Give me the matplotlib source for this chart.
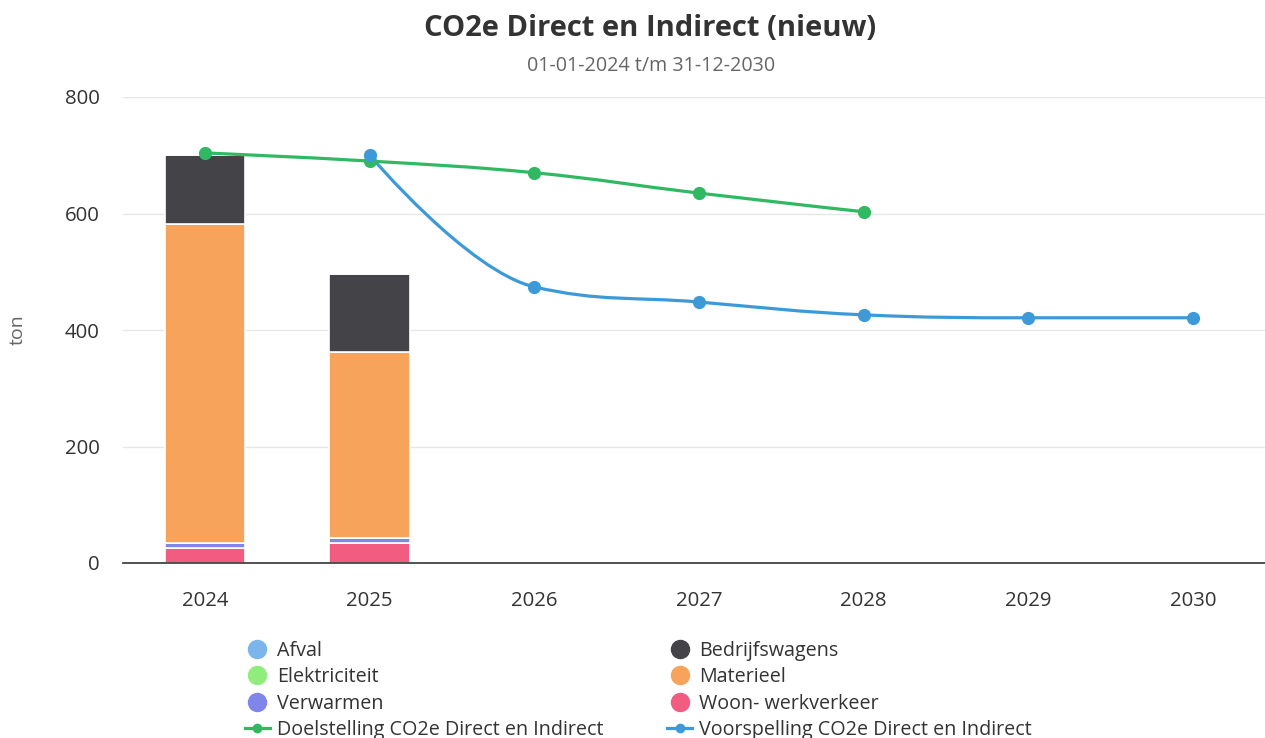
import matplotlib
matplotlib.use("Agg")
import matplotlib.pyplot as plt
from matplotlib.path import Path
from matplotlib.patches import PathPatch
from matplotlib.lines import Line2D

plt.rcParams['font.family'] = ['Open Sans', 'DejaVu Sans']

years = ['2024', '2025', '2026', '2027', '2028', '2029', '2030']

# stacked bars (only 2024 and 2025 have data)
woon = [26, 35]
verwarmen = [8, 8]
elektriciteit = [0, 0]
materieel = [548, 319]
bedrijfswagens = [118, 134]
afval = [0, 0]

doel_x = [0, 1, 2, 3, 4]
doel_y = [704, 690, 670, 635, 603]
voor_x = [1, 2, 3, 4, 5, 6]
voor_y = [700, 474, 448, 426, 421, 421]

c_afval = '#7cb5ec'
c_bedrijf = '#434348'
c_elek = '#90ed7d'
c_mat = '#f7a35c'
c_verw = '#8085e9'
c_woon = '#f15c80'
c_doel = '#30b862'
c_voor = '#3d9ad9'


def spline_path(xs, ys, smoothing=1.5):
    # highcharts-like spline control points
    n = len(xs)
    denom = smoothing + 1
    lc = [(xs[i], ys[i]) for i in range(n)]
    rc = [(xs[i], ys[i]) for i in range(n)]
    for i in range(1, n - 1):
        px, py = xs[i], ys[i]
        lx, ly = xs[i - 1], ys[i - 1]
        nx, ny = xs[i + 1], ys[i + 1]
        lcx = (smoothing * px + lx) / denom
        lcy = (smoothing * py + ly) / denom
        rcx = (smoothing * px + nx) / denom
        rcy = (smoothing * py + ny) / denom
        if rcx != lcx:
            corr = (rcy - lcy) * (rcx - px) / (rcx - lcx) + py - rcy
            lcy += corr
            rcy += corr
        if lcy > ly and lcy > py:
            lcy = max(ly, py)
            rcy = 2 * py - lcy
        elif lcy < ly and lcy < py:
            lcy = min(ly, py)
            rcy = 2 * py - lcy
        if rcy > ny and rcy > py:
            rcy = max(ny, py)
            lcy = 2 * py - rcy
        elif rcy < ny and rcy < py:
            rcy = min(ny, py)
            lcy = 2 * py - rcy
        lc[i] = (lcx, lcy)
        rc[i] = (rcx, rcy)
    verts = [(xs[0], ys[0])]
    codes = [Path.MOVETO]
    for i in range(1, n):
        verts += [rc[i - 1], lc[i], (xs[i], ys[i])]
        codes += [Path.CURVE4] * 3
    return Path(verts, codes)


fig = plt.figure(figsize=(12.65, 7.38), dpi=100)
ax = fig.add_axes([123 / 1265, 175 / 738, 1 - 123 / 1265, 466 / 738])

bx = list(range(len(woon)))
bw = 0.49
bottom = [0] * len(bx)
for vals, col in [(woon, c_woon), (verwarmen, c_verw), (materieel, c_mat),
                  (elektriciteit, c_elek), (bedrijfswagens, c_bedrijf), (afval, c_afval)]:
    ax.bar(bx, vals, bw, bottom=bottom, color=col, edgecolor='white', linewidth=1.2, zorder=2)
    bottom = [bottom[i] + vals[i] for i in range(len(vals))]

for xs, ys, col in [(doel_x, doel_y, c_doel), (voor_x, voor_y, c_voor)]:
    ax.add_patch(PathPatch(spline_path(xs, ys), fill=False, edgecolor=col, lw=2.3,
                           capstyle='round', joinstyle='round', zorder=3))
    ax.plot(xs, ys, 'o', color=col, markersize=8.5, zorder=4)

ax.set_xlim(-0.4985, 6.438)
ax.set_ylim(0, 800)
ax.set_yticks([0, 200, 400, 600, 800])
ax.set_xticks(range(len(years)))
ax.set_xticklabels(years)
ax.grid(axis='y', color='#e6e6e6', lw=1, zorder=0)
ax.set_axisbelow(True)
for s in ['top', 'right', 'left']:
    ax.spines[s].set_visible(False)
ax.spines['bottom'].set_color('#333333')
ax.spines['bottom'].set_linewidth(1.2)
ax.tick_params(axis='both', length=0, labelsize=14.7, labelcolor='#333333')
ax.tick_params(axis='x', pad=20)
ax.tick_params(axis='y', pad=17)

fig.text(18 / 1265, 1 - 330 / 738, 'ton', rotation=90, ha='center', va='center',
         fontsize=14, color='#666666')
fig.text(650 / 1265, 1 - 28 / 738, 'CO2e Direct en Indirect (nieuw)', ha='center', va='center',
         fontsize=21, fontweight='bold', color='#333333')
fig.text(651 / 1265, 1 - 66 / 738, '01-01-2024 t/m 31-12-2030', ha='center', va='center',
         fontsize=14.2, color='#666666')

handles = [
    Line2D([], [], ls='none', marker='o', color=c_afval, markersize=13),
    Line2D([], [], ls='none', marker='o', color=c_elek, markersize=13),
    Line2D([], [], ls='none', marker='o', color=c_verw, markersize=13),
    Line2D([], [], color=c_doel, lw=2.3, marker='o', markersize=6),
    Line2D([], [], ls='none', marker='o', color=c_bedrijf, markersize=13),
    Line2D([], [], ls='none', marker='o', color=c_mat, markersize=13),
    Line2D([], [], ls='none', marker='o', color=c_woon, markersize=13),
    Line2D([], [], color=c_voor, lw=2.3, marker='o', markersize=6),
]
labels = ['Afval', 'Elektriciteit', 'Verwarmen', 'Doelstelling CO2e Direct en Indirect',
          'Bedrijfswagens', 'Materieel', 'Woon- werkverkeer', 'Voorspelling CO2e Direct en Indirect']
fig.legend(handles, labels, ncol=2, loc='upper left', bbox_to_anchor=(235 / 1265, 1 - 631 / 738),
           frameon=False, fontsize=14.2, labelcolor='#333333', handlelength=1.27,
           handletextpad=0.35, columnspacing=3.25, labelspacing=0.33, borderpad=0)

fig.savefig('out.png', dpi=100)
